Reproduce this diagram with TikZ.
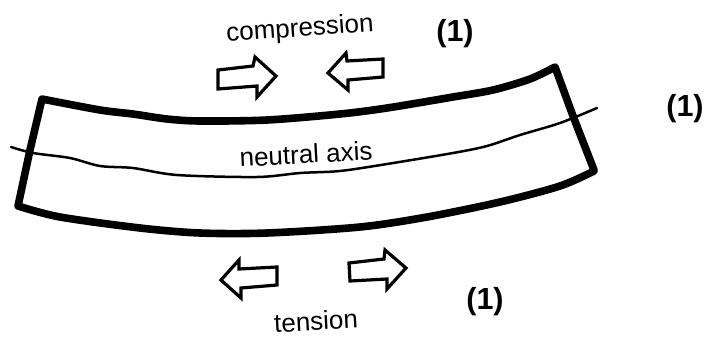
\documentclass[tikz,border=0pt]{standalone}
\usepackage{fontspec}
\setmainfont{Liberation Sans}
\tikzset{
 beam/.style={line width=7.6pt,line join=round,line cap=round},
 axisline/.style={line width=2.5pt,line cap=round},
 blockarrow/.style={line width=3.2pt,line join=miter},
 lbl/.style={font=\fontsize{26}{28}\selectfont,inner sep=0pt},
 mark1/.style={font=\fontsize{30.5}{33}\bfseries\selectfont,inner sep=0pt}
}
\begin{document}
\begin{tikzpicture}[x=1pt,y=-1pt]
\useasboundingbox (0,0) rectangle (715,349);
% beam outline
\draw[beam] plot[smooth,tension=0.5] coordinates {(42,99) (100,110) (133,114) (167,119) (200,121) (267,120) (340,114) (387,108) (453,97) (493,90) (530,79) (555,67)}
  -- (573,116) -- (594,170)
  plot[smooth,tension=0.5] coordinates {(594,171) (560,186) (500,202) (427,217) (360,227) (267,233) (200,233) (140,228) (60,217) (18,206)}
  -- (30,150) -- (42,99);
% neutral axis
\draw[axisline] plot[smooth,tension=0.5] coordinates {(11,147) (33,153) (70,158) (100,166) (133,168) (177,175) (257,177) (300,173) (340,171) (387,164) (453,153) (487,146) (520,135) (560,123) (597,108)};
% arrows
\draw[blockarrow] (218,70) -- (253,66) -- (255,57) -- (276,76) -- (257,97) -- (257,86) -- (218,89) -- cycle;
\draw[blockarrow] (328,73) -- (346,53) -- (347,61) -- (383,59) -- (383,77) -- (348,80) -- (348,90) -- cycle;
\draw[blockarrow] (221,280) -- (239,260) -- (239,269) -- (277,267) -- (277,285) -- (241,288) -- (241,298) -- cycle;
\draw[blockarrow] (349,263) -- (384,259) -- (385,250) -- (406,268) -- (387,289) -- (387,279) -- (350,281) -- cycle;
% labels
\node[lbl,rotate=4] (comp) at (300,30) {compression};
\node[lbl,rotate=3] (tens) at (316,321) {tension};
\node[lbl,rotate=3] (neut) at (306,154) {neutral axis};
\node[mark1] (m1) at (455,34) {(1)};
\node[mark1] (m2) at (685,109) {(1)};
\node[mark1] (m3) at (485,302) {(1)};
\end{tikzpicture}
\end{document}
